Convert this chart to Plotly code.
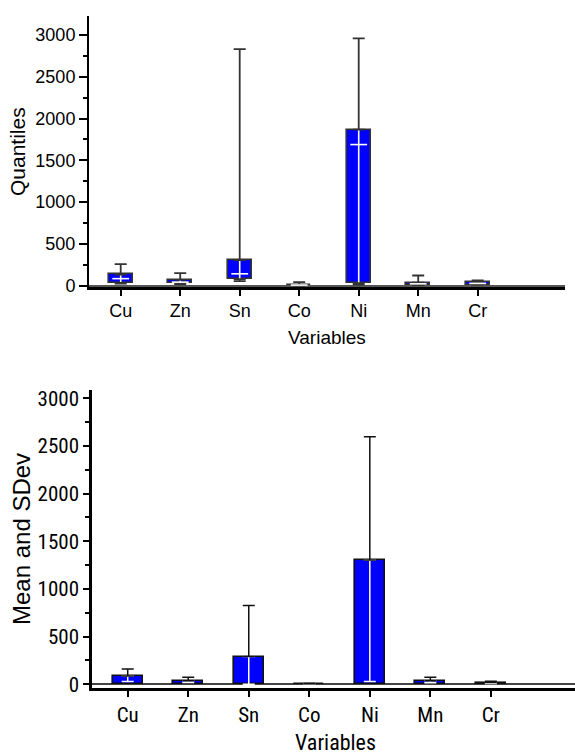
import plotly.graph_objects as go

# ---------------- data ----------------
variables = ["Cu", "Zn", "Sn", "Co", "Ni", "Mn", "Cr"]

# Top chart: quantiles (box = Q1..Q3, median, whiskers to min / max)
q_min = [22, 18, 52, 1, 10, 5, 10]
q1 = [32, 28, 76, 2, 28, 12, 12]
q_med = [82, 40, 140, 5, 1688, 20, 25]
q3 = [132, 68, 304, 8, 1868, 35, 40]
q_max = [256, 148, 2832, 40, 2960, 120, 60]

# Bottom chart: mean and standard deviation
means = [87, 37, 290, 5, 1304, 36, 17]
sd_upper = [73, 36, 535, 3, 1293, 37, 14]
sd_lower_end = [27, 17, 0, 2, 27, 15, 8]

y_tick_vals = [0, 500, 1000, 1500, 2000, 2500, 3000]

# ---------------- figure ----------------
W, H = 575, 756
x_pos = list(range(len(variables)))

BLUE = "#0000FF"
fig = go.Figure()

# ----- top chart -----
fig.add_trace(go.Bar(
    x=x_pos, y=[b - a for a, b in zip(q1, q3)], base=q1, width=0.41,
    marker=dict(color=BLUE, line=dict(color="#333333", width=1.6)),
    xaxis="x", yaxis="y", showlegend=False, hoverinfo="skip"))
fig.add_trace(go.Scatter(
    x=x_pos, y=q1, mode="markers", marker=dict(size=0.1, color="rgba(0,0,0,0)"),
    error_y=dict(type="data", symmetric=False, array=[b - a for a, b in zip(q1, q3)],
                 arrayminus=[0] * 7, color="white", thickness=1.6, width=0),
    xaxis="x", yaxis="y", showlegend=False, hoverinfo="skip"))
fig.add_trace(go.Scatter(
    x=x_pos, y=q3, mode="markers", marker=dict(size=0.1, color="rgba(0,0,0,0)"),
    error_y=dict(type="data", symmetric=False, array=[m - b for b, m in zip(q3, q_max)],
                 arrayminus=[0] * 7, color="#333333", thickness=1.8, width=6),
    xaxis="x", yaxis="y", showlegend=False, hoverinfo="skip"))
fig.add_trace(go.Scatter(
    x=x_pos, y=q1, mode="markers", marker=dict(size=0.1, color="rgba(0,0,0,0)"),
    error_y=dict(type="data", symmetric=False, array=[0] * 7,
                 arrayminus=[a - m for a, m in zip(q1, q_min)],
                 color="#333333", thickness=1.8, width=6),
    xaxis="x", yaxis="y", showlegend=False, hoverinfo="skip"))
fig.add_trace(go.Scatter(
    x=x_pos, y=q_med, mode="markers",
    marker=dict(symbol="line-ew", size=12, line=dict(color="white", width=1.6)),
    xaxis="x", yaxis="y", showlegend=False, hoverinfo="skip"))

# ----- bottom chart -----
fig.add_trace(go.Bar(
    x=x_pos, y=means, width=0.5,
    marker=dict(color=BLUE, line=dict(color="#111111", width=1.6)),
    xaxis="x2", yaxis="y2", showlegend=False, hoverinfo="skip"))
fig.add_trace(go.Scatter(
    x=x_pos, y=means, mode="markers", marker=dict(size=0.1, color="rgba(0,0,0,0)"),
    error_y=dict(type="data", symmetric=False, array=[0] * 7,
                 arrayminus=[m - l for m, l in zip(means, sd_lower_end)],
                 color="white", thickness=1.5, width=6),
    xaxis="x2", yaxis="y2", showlegend=False, hoverinfo="skip"))
fig.add_trace(go.Scatter(
    x=x_pos, y=means, mode="markers", marker=dict(size=0.1, color="rgba(0,0,0,0)"),
    error_y=dict(type="data", symmetric=False, array=sd_upper, arrayminus=[0] * 7,
                 color="#111111", thickness=1.5, width=6),
    xaxis="x2", yaxis="y2", showlegend=False, hoverinfo="skip"))

TOP_FONT = "Liberation Sans, Arial, sans-serif"
BOT_FONT = "Roboto Condensed, Liberation Sans, sans-serif"


def px_x(a, b):
    return [a / W, b / W]


def px_y(top, bottom):
    return [1 - bottom / H, 1 - top / H]


common_x = dict(tickmode="array", tickvals=x_pos, ticktext=variables,
                showline=True, linecolor="black", ticks="outside", tickcolor="black",
                tickwidth=2, ticklen=6, showgrid=False, zeroline=False,
                fixedrange=True, automargin=False)

fig.update_layout(
    width=W, height=H,
    margin=dict(l=0, r=0, t=0, b=0),
    paper_bgcolor="white", plot_bgcolor="white",
    bargap=0,
    xaxis=dict(common_x, domain=px_x(89, 565), range=[-0.533, 7.467], anchor="y",
               linewidth=2.5,
               tickfont=dict(family=TOP_FONT, size=18, color="black")),
    yaxis=dict(domain=px_y(16, 287), range=[-18, 3228], anchor="x", automargin=False,
               tickvals=y_tick_vals, showline=True, linecolor="black", linewidth=2,
               ticks="outside", ticklen=8, tickwidth=2, tickcolor="black",
               minor=dict(ticks="outside", ticklen=4, tickwidth=1.5, dtick=250,
                          tickcolor="black", showgrid=False),
               showgrid=False, zeroline=True, zerolinecolor="#555555", zerolinewidth=1.5,
               fixedrange=True,
               tickfont=dict(family=TOP_FONT, size=18, color="black")),
    xaxis2=dict(common_x, domain=px_x(92, 575), range=[-0.59, 7.39], anchor="y2",
                linewidth=3,
                tickfont=dict(family=BOT_FONT, size=21, color="black")),
    yaxis2=dict(domain=px_y(390, 688), range=[-40, 3087], anchor="x2", automargin=False,
                tickvals=y_tick_vals, showline=True, linecolor="black", linewidth=2.5,
                ticks="outside", ticklen=6, tickwidth=2, tickcolor="black",
                minor=dict(ticks="outside", ticklen=4, tickwidth=1.5, dtick=250,
                           tickcolor="black", showgrid=False),
                showgrid=False, zeroline=True, zerolinecolor="#444444", zerolinewidth=1.5,
                fixedrange=True,
                tickfont=dict(family=BOT_FONT, size=21, color="black")),
)

# axis titles placed as annotations (pixel positions converted to paper coords)
titles = [
    ("Quantiles", 17, 152, -90, TOP_FONT, 21),
    ("Variables", 327, 337, 0, TOP_FONT, 19),
    ("Mean and SDev", 21, 539, -90, TOP_FONT, 24),
    ("Variables", 335, 742, 0, BOT_FONT, 22),
]
for text, px, py, ang, fam, size in titles:
    fig.add_annotation(xref="paper", yref="paper", x=px / W, y=1 - py / H,
                       xanchor="center", yanchor="middle", text=text, showarrow=False,
                       textangle=ang, font=dict(family=fam, size=size, color="black"))

fig.write_html("out.html", config={"displayModeBar": False},
               post_script="document.body.style.margin='0';")
